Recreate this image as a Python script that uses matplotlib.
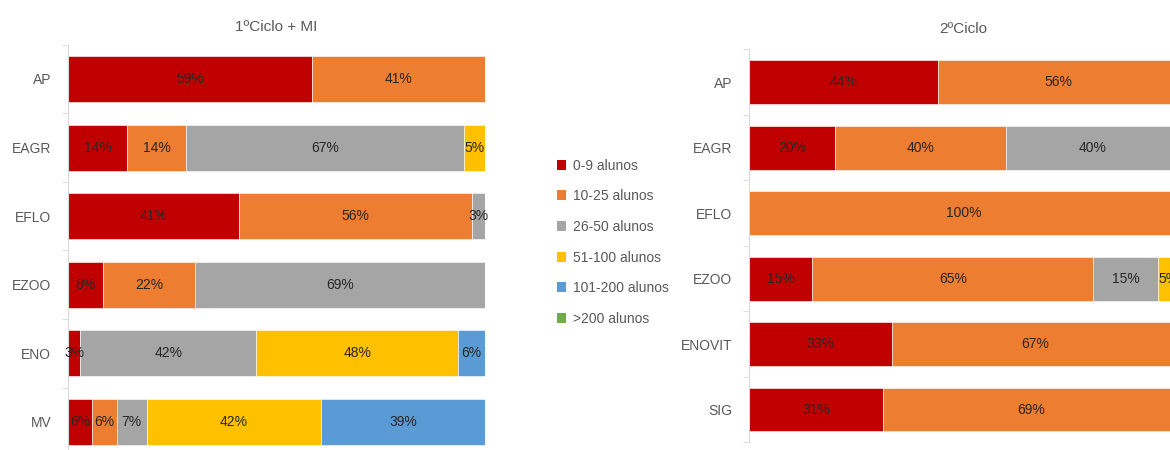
import numpy as np
import matplotlib
matplotlib.use("Agg")
import matplotlib.pyplot as plt
from matplotlib.patches import Patch

# aspecto geral
plt.rcParams['font.family'] = ['Liberation Sans', 'DejaVu Sans']
plt.rcParams['font.size'] = 10

# classes de alunos e cores
classes = ["0-9 alunos", "10-25 alunos", "26-50 alunos", "51-100 alunos", "101-200 alunos", ">200 alunos"]
cores = ["#C00000", "#ED7D31", "#A5A5A5", "#FFC000", "#5B9BD5", "#70AD47"]

# 1º Ciclo + MI (percentagens por classe)
cursos_1 = ["AP", "EAGR", "EFLO", "EZOO", "ENO", "MV"]
c1_0_9 = [58.6, 14.1, 40.9, 8.3, 2.9, 5.7]
c1_10_25 = [41.4, 14.3, 56.0, 22.2, 0.0, 6.0]
c1_26_50 = [0.0, 66.6, 3.1, 69.4, 42.3, 7.2]
c1_51_100 = [0.0, 5.0, 0.0, 0.0, 48.4, 41.7]
c1_101_200 = [0.0, 0.0, 0.0, 0.0, 6.4, 39.4]
c1_200 = [0.0, 0.0, 0.0, 0.0, 0.0, 0.0]

# 2º Ciclo
cursos_2 = ["AP", "EAGR", "EFLO", "EZOO", "ENOVIT", "SIG"]
c2_0_9 = [44.0, 20.0, 0.0, 14.8, 33.3, 31.3]
c2_10_25 = [56.0, 40.0, 100.0, 65.4, 66.7, 68.7]
c2_26_50 = [0.0, 40.0, 0.0, 15.2, 0.0, 0.0]
c2_51_100 = [0.0, 0.0, 0.0, 4.6, 0.0, 0.0]
c2_101_200 = [0.0, 0.0, 0.0, 0.0, 0.0, 0.0]
c2_200 = [0.0, 0.0, 0.0, 0.0, 0.0, 0.0]


def barras(ax, cursos, series, titulo, pad_titulo=10):
    y = np.arange(len(cursos))
    base = np.zeros(len(cursos))
    for vals, cor in zip(series, cores):
        vals = np.array(vals)
        ax.barh(y, vals, left=base, height=0.67, color=cor, edgecolor="white", linewidth=0.4)
        for yi, v, b in zip(y, vals, base):
            if v > 0:
                ax.text(b + v / 2, yi, "%d%%" % round(v), ha="center", va="center",
                        fontsize=10, color="#262626")
        base = base + vals

    ax.set_xlim(0, 100)
    ax.set_ylim(len(cursos) - 0.5, -0.5)
    ax.set_yticks(y)
    ax.set_yticklabels(cursos, color="#595959", fontsize=10)
    ax.set_yticks(np.arange(len(cursos) + 1) - 0.5, minor=True)
    ax.tick_params(axis="y", which="major", length=0, pad=12)
    ax.tick_params(axis="y", which="minor", length=4, color="#D9D9D9", direction="out")
    ax.set_xticks([])
    for s in ["top", "right", "bottom"]:
        ax.spines[s].set_visible(False)
    ax.spines["left"].set_color("#D9D9D9")
    ax.set_title(titulo, color="#595959", fontsize=11, pad=pad_titulo)


fig = plt.figure(figsize=(11.7, 4.5), dpi=100)

ax1 = fig.add_axes([68 / 1170, -0.014, 417 / 1170, 0.9147])
barras(ax1, cursos_1, [c1_0_9, c1_10_25, c1_26_50, c1_51_100, c1_101_200, c1_200], "1ºCiclo + MI")

ax2 = fig.add_axes([749 / 1170, 0.0172, 429 / 1170, 0.873])
barras(ax2, cursos_2, [c2_0_9, c2_10_25, c2_26_50, c2_51_100, c2_101_200, c2_200], "2ºCiclo",
       pad_titulo=12)

# legenda no meio
handles = [Patch(facecolor=c, edgecolor="none") for c in cores]
fig.legend(handles, classes, loc="upper left", bbox_to_anchor=(544 / 1170, 1 - 146 / 450),
           frameon=False, fontsize=10, handlelength=0.7, handleheight=0.7,
           handletextpad=0.5, labelspacing=1.2, labelcolor="#595959")

fig.savefig("out.png", dpi=100)
